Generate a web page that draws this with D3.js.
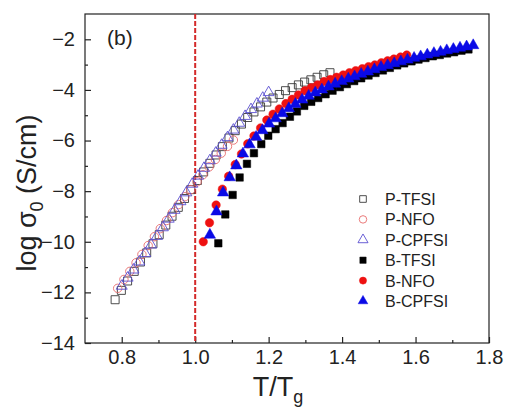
<!DOCTYPE html>
<html>
<head>
<meta charset="utf-8">
<script src="https://cdn.jsdelivr.net/npm/d3@7"></script>
<style>
  body { margin: 0; background: #fff; }
  text { font-family: "Liberation Sans", Arial, sans-serif; }
</style>
</head>
<body>
<div id="output"></div>
<script>
// T/Tg and log sigma0 values
const pTfsiX = [0.782, 0.799, 0.816, 0.834, 0.851, 0.868, 0.885, 0.902, 0.920, 0.937, 0.954, 0.971, 0.988, 1.006, 1.023, 1.040, 1.057, 1.074, 1.092, 1.109, 1.126, 1.143, 1.160, 1.178, 1.195, 1.212, 1.229, 1.246, 1.264, 1.281, 1.298, 1.315, 1.332, 1.350, 1.367];
const pTfsiY = [-12.29, -11.92, -11.55, -11.17, -10.80, -10.44, -10.08, -9.72, -9.34, -8.99, -8.64, -8.29, -7.94, -7.58, -7.24, -6.90, -6.57, -6.24, -5.90, -5.61, -5.35, -5.09, -4.87, -4.67, -4.48, -4.32, -4.18, -4.03, -3.91, -3.80, -3.69, -3.60, -3.50, -3.40, -3.32];

const pNfoX = [0.789, 0.806, 0.822, 0.839, 0.855, 0.872, 0.889, 0.905, 0.922, 0.938, 0.955, 0.972, 0.988, 1.005, 1.021, 1.038, 1.055, 1.071, 1.088, 1.104];
const pNfoY = [-11.84, -11.49, -11.17, -10.83, -10.50, -10.15, -9.80, -9.48, -9.16, -8.85, -8.53, -8.22, -7.94, -7.63, -7.35, -7.04, -6.75, -6.50, -6.23, -5.98];

const pCpfsiX = [0.800, 0.816, 0.832, 0.848, 0.864, 0.880, 0.896, 0.912, 0.928, 0.944, 0.960, 0.976, 0.992, 1.008, 1.024, 1.040, 1.056, 1.072, 1.088, 1.104, 1.120, 1.136, 1.152, 1.168, 1.184, 1.200];
const pCpfsiY = [-11.75, -11.43, -11.11, -10.79, -10.46, -10.12, -9.78, -9.44, -9.10, -8.75, -8.41, -8.06, -7.72, -7.40, -7.09, -6.79, -6.49, -6.18, -5.88, -5.58, -5.31, -5.04, -4.77, -4.55, -4.32, -4.10];

const bTfsiX = [1.063, 1.082, 1.102, 1.121, 1.141, 1.160, 1.180, 1.199, 1.219, 1.238, 1.258, 1.277, 1.297, 1.316, 1.335, 1.355, 1.374, 1.394, 1.413, 1.433, 1.452, 1.472, 1.491, 1.511, 1.530, 1.550, 1.569, 1.589, 1.608, 1.627, 1.647, 1.666, 1.686, 1.705, 1.725, 1.744];
const bTfsiY = [-10.06, -8.92, -8.15, -7.46, -6.92, -6.50, -6.14, -5.81, -5.55, -5.31, -5.06, -4.85, -4.63, -4.47, -4.32, -4.17, -4.03, -3.89, -3.77, -3.65, -3.54, -3.43, -3.33, -3.23, -3.13, -3.03, -2.95, -2.87, -2.80, -2.74, -2.67, -2.62, -2.56, -2.51, -2.45, -2.40];

const bNfoX = [1.022, 1.039, 1.057, 1.074, 1.091, 1.109, 1.126, 1.143, 1.160, 1.178, 1.195, 1.212, 1.229, 1.247, 1.264, 1.281, 1.299, 1.316, 1.333, 1.351, 1.368, 1.385, 1.403, 1.420, 1.437, 1.455, 1.472, 1.489, 1.507, 1.524, 1.541, 1.559, 1.576];
const bNfoY = [-10.00, -9.25, -8.55, -7.92, -7.41, -6.95, -6.53, -6.13, -5.82, -5.50, -5.19, -4.96, -4.75, -4.54, -4.37, -4.20, -4.03, -3.91, -3.80, -3.67, -3.59, -3.50, -3.41, -3.32, -3.24, -3.16, -3.08, -3.01, -2.93, -2.85, -2.78, -2.70, -2.62];

const bCpfsiX = [1.040, 1.058, 1.076, 1.094, 1.112, 1.130, 1.148, 1.166, 1.183, 1.201, 1.219, 1.237, 1.255, 1.273, 1.291, 1.309, 1.327, 1.345, 1.363, 1.381, 1.399, 1.417, 1.434, 1.452, 1.470, 1.488, 1.506, 1.524, 1.542, 1.560, 1.578, 1.596, 1.614, 1.632, 1.650, 1.668, 1.685, 1.703, 1.721, 1.739, 1.757];
const bCpfsiY = [-9.73, -8.81, -8.06, -7.46, -6.99, -6.52, -6.16, -5.86, -5.60, -5.34, -5.13, -4.93, -4.73, -4.56, -4.39, -4.24, -4.11, -3.99, -3.87, -3.76, -3.66, -3.56, -3.47, -3.37, -3.28, -3.19, -3.10, -3.03, -2.95, -2.88, -2.81, -2.74, -2.68, -2.61, -2.55, -2.50, -2.44, -2.39, -2.34, -2.29, -2.24];

const seriesNames = ["P-TFSI", "P-NFO", "P-CPFSI", "B-TFSI", "B-NFO", "B-CPFSI"];
const xTicks = [0.8, 1.0, 1.2, 1.4, 1.6, 1.8];
const yTicks = [-14, -12, -10, -8, -6, -4, -2];
const tgLine = 1.0;

const series = [
    { name: seriesNames[0], xs: pTfsiX, ys: pTfsiY, shape: d3.symbolSquare, size: 64, color: "#3a3a3a", filled: false },
    { name: seriesNames[1], xs: pNfoX, ys: pNfoY, shape: d3.symbolCircle, size: 56, color: "#e86c6c", filled: false },
    { name: seriesNames[2], xs: pCpfsiX, ys: pCpfsiY, shape: d3.symbolTriangle, size: 52, color: "#5a4fd0", filled: false },
    { name: seriesNames[3], xs: bTfsiX, ys: bTfsiY, shape: d3.symbolSquare, size: 56, color: "#000000", filled: true },
    { name: seriesNames[4], xs: bNfoX, ys: bNfoY, shape: d3.symbolCircle, size: 56, color: "#ee1111", filled: true },
    { name: seriesNames[5], xs: bCpfsiX, ys: bCpfsiY, shape: d3.symbolTriangle, size: 56, color: "#0a0ae6", filled: true }
];

const W = 508, H = 408;
const m = { left: 85, right: 489, top: 14, bottom: 343 };

const svg = d3.select("#output").append("svg").attr("width", W).attr("height", H);

const x = d3.scaleLinear().domain([0.7, 1.8]).range([m.left, m.right]);
const y = d3.scaleLinear().domain([-14, -1]).range([m.bottom, m.top]);

// frame
svg.append("rect")
    .attr("x", m.left).attr("y", m.top)
    .attr("width", m.right - m.left).attr("height", m.bottom - m.top)
    .style("fill", "none").style("stroke", "#222").style("stroke-width", 1.2);

// axes, ticks pointing inward
const xAxis = svg.append("g").attr("transform", "translate(0," + m.bottom + ")")
    .call(d3.axisBottom(x).tickValues(xTicks).tickSize(-6).tickPadding(7).tickFormat(d3.format(".1f")));
const xMinor = svg.append("g").attr("transform", "translate(0," + m.bottom + ")")
    .call(d3.axisBottom(x).tickValues(d3.range(0.9, 1.8, 0.2)).tickSize(-3).tickFormat(""));
const yAxis = svg.append("g").attr("transform", "translate(" + m.left + ",0)")
    .call(d3.axisLeft(y).tickValues(yTicks).tickSize(-6).tickPadding(10).tickFormat(d3.format("d")));
const yMinor = svg.append("g").attr("transform", "translate(" + m.left + ",0)")
    .call(d3.axisLeft(y).tickValues(d3.range(-13, -1, 2)).tickSize(-3).tickFormat(""));

for (let a of [xAxis, xMinor, yAxis, yMinor]) {
    a.select(".domain").remove();
    a.selectAll("line").style("stroke", "#222").style("stroke-width", 1.2);
    a.selectAll("text").style("font-size", "20px").style("fill", "#222")
        .style("font-family", "'Liberation Sans', Arial, sans-serif");
}
xAxis.selectAll("text").attr("dy", "0.71em");

// Tg marker
svg.append("line")
    .attr("x1", x(tgLine)).attr("x2", x(tgLine))
    .attr("y1", m.top).attr("y2", m.bottom)
    .style("stroke", "#d42a2a").style("stroke-width", 2)
    .style("stroke-dasharray", "5,2");

// points
for (let s of series) {
    const pts = s.xs.map((v, i) => [v, s.ys[i]]);
    svg.append("g").selectAll("path")
        .data(pts)
        .enter().append("path")
        .attr("d", d3.symbol().type(s.shape).size(s.size))
        .attr("transform", d => "translate(" + x(d[0]) + "," + y(d[1]) + ")")
        .style("fill", s.filled ? s.color : "none")
        .style("stroke", s.color)
        .style("stroke-width", s.filled ? 0.5 : 0.9);
}

// legend
const lg = svg.append("g");
series.forEach((s, i) => {
    const ly = 199 + i * 20.4;
    lg.append("path")
        .attr("d", d3.symbol().type(s.shape).size(s.filled ? 40 : 44))
        .attr("transform", "translate(363," + ly + ")")
        .style("fill", s.filled ? s.color : "none")
        .style("stroke", s.color)
        .style("stroke-width", s.filled ? 0.5 : 0.9);
    lg.append("text")
        .attr("x", 385).attr("y", ly + 6)
        .style("font-size", "16px").style("fill", "#222")
        .text(s.name);
});

// panel tag
svg.append("text")
    .attr("x", 107).attr("y", 45)
    .style("font-size", "21px").style("fill", "#222")
    .text("(b)");

// axis titles
const yt = svg.append("text")
    .attr("transform", "translate(36,193) rotate(-90)")
    .style("text-anchor", "middle")
    .style("font-size", "27px").style("fill", "#222");
yt.append("tspan").text("log \u03c3");
yt.append("tspan").attr("dy", 7).style("font-size", "18px").text("0");
yt.append("tspan").attr("dy", -7).text(" (S/cm)");

const xt = svg.append("text")
    .attr("x", 278).attr("y", 396)
    .style("text-anchor", "middle")
    .style("font-size", "27px").style("fill", "#222");
xt.append("tspan").text("T/T");
xt.append("tspan").attr("dy", 7).style("font-size", "18px").text("g");
</script>
</body>
</html>
